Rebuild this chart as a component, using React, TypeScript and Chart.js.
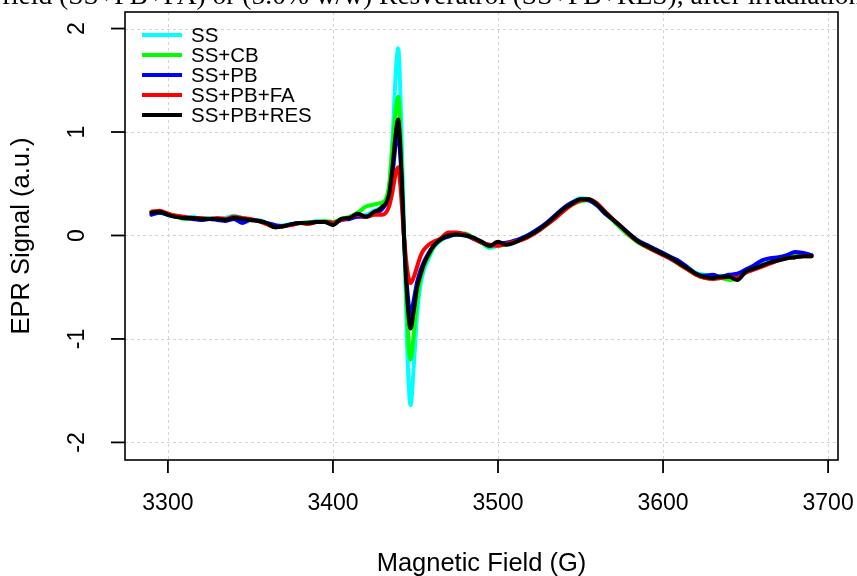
import { useEffect, useRef } from "react";
import { Chart, registerables } from "chart.js";

Chart.register(...registerables);

// Magnetic field (G)
const field = [
  3290, 3295, 3300, 3305, 3310, 3315, 3320, 3325, 3330, 3335, 3340, 3345, 3350, 3355,
  3360, 3365, 3370, 3375, 3380, 3385, 3390, 3395, 3400, 3405, 3410, 3415, 3420, 3425,
  3428, 3430, 3432, 3434, 3436, 3438, 3439.5, 3441, 3443, 3445, 3447, 3449, 3451, 3453,
  3455, 3458, 3461, 3465,
  3470, 3475, 3480, 3485, 3490, 3495, 3500, 3505, 3510, 3515, 3520, 3525, 3530, 3535,
  3540, 3545, 3550, 3555, 3560, 3565, 3570, 3575, 3580, 3585, 3590, 3595, 3600, 3605,
  3610, 3615, 3620, 3625, 3630, 3635, 3640, 3645, 3650, 3655, 3660, 3665, 3670, 3675,
  3680, 3685, 3690,
];

const ssValues = [
  0.21, 0.22, 0.2, 0.19, 0.17, 0.18, 0.16, 0.17, 0.16, 0.17, 0.19, 0.17, 0.15, 0.15,
  0.12, 0.09, 0.1, 0.11, 0.12, 0.12, 0.14, 0.13, 0.13, 0.15, 0.17, 0.19, 0.2, 0.24,
  0.26, 0.28, 0.33, 0.45, 0.9, 1.55, 1.81, 1.3, 0.1, -1.1, -1.64, -1.25, -0.75, -0.48,
  -0.34, -0.22, -0.12, -0.05,
  -0.01, 0.01, 0.0, -0.03, -0.07, -0.12, -0.1, -0.08, -0.05, -0.03, 0.02, 0.07, 0.12, 0.19,
  0.26, 0.32, 0.36, 0.35, 0.29, 0.22, 0.14, 0.07, 0.0, -0.05, -0.1, -0.14, -0.17, -0.22,
  -0.26, -0.31, -0.36, -0.38, -0.4, -0.39, -0.39, -0.38, -0.34, -0.31, -0.28, -0.26, -0.23, -0.21,
  -0.19, -0.18, -0.19,
];

const ssCbValues = [
  0.23, 0.22, 0.21, 0.18, 0.16, 0.17, 0.15, 0.16, 0.16, 0.16, 0.17, 0.16, 0.15, 0.14,
  0.11, 0.08, 0.09, 0.11, 0.12, 0.13, 0.13, 0.14, 0.13, 0.16, 0.18, 0.22, 0.28, 0.3,
  0.31, 0.32, 0.35, 0.48, 0.85, 1.2, 1.34, 0.95, 0.05, -0.8, -1.2, -0.95, -0.62, -0.42,
  -0.3, -0.2, -0.11, -0.05,
  0.0, 0.02, 0.02, -0.02, -0.07, -0.11, -0.09, -0.09, -0.06, -0.03, 0.01, 0.05, 0.11, 0.18,
  0.25, 0.3, 0.33, 0.34, 0.3, 0.21, 0.14, 0.06, -0.01, -0.07, -0.11, -0.15, -0.18, -0.23,
  -0.28, -0.33, -0.38, -0.41, -0.42, -0.41, -0.43, -0.42, -0.36, -0.32, -0.29, -0.26, -0.23, -0.21,
  -0.2, -0.18, -0.19,
];

const ssPbValues = [
  0.2, 0.22, 0.2, 0.18, 0.17, 0.16, 0.15, 0.16, 0.15, 0.14, 0.16, 0.12, 0.15, 0.14,
  0.12, 0.1, 0.09, 0.11, 0.12, 0.12, 0.13, 0.13, 0.12, 0.15, 0.16, 0.18, 0.18, 0.21,
  0.23, 0.26, 0.3, 0.36, 0.58, 0.88, 1.0, 0.72, 0.0, -0.52, -0.76, -0.62, -0.45, -0.34,
  -0.26, -0.17, -0.1, -0.04,
  -0.01, 0.01, 0.01, -0.03, -0.06, -0.1, -0.08, -0.07, -0.05, -0.02, 0.02, 0.07, 0.13, 0.2,
  0.27, 0.32, 0.35, 0.34, 0.29, 0.21, 0.15, 0.08, 0.01, -0.05, -0.09, -0.13, -0.17, -0.21,
  -0.25, -0.31, -0.37, -0.39, -0.38, -0.4, -0.38, -0.37, -0.33, -0.29, -0.24, -0.22, -0.21, -0.19,
  -0.16, -0.17, -0.19,
];

const ssPbFaValues = [
  0.23, 0.24, 0.21, 0.19, 0.18, 0.17, 0.17, 0.16, 0.17, 0.16, 0.18, 0.17, 0.16, 0.14,
  0.11, 0.08, 0.09, 0.1, 0.12, 0.11, 0.13, 0.13, 0.12, 0.15, 0.17, 0.2, 0.18, 0.2,
  0.2, 0.2, 0.22, 0.28, 0.42, 0.6, 0.66, 0.45, 0.0, -0.33, -0.46, -0.4, -0.3, -0.2,
  -0.14, -0.09, -0.06, -0.03,
  0.03, 0.03, 0.01, -0.03, -0.07, -0.09, -0.1, -0.08, -0.06, -0.04, 0.0, 0.05, 0.11, 0.17,
  0.24, 0.3, 0.34, 0.35, 0.31, 0.23, 0.15, 0.08, 0.0, -0.06, -0.11, -0.15, -0.19, -0.23,
  -0.28, -0.33, -0.38, -0.41, -0.42, -0.41, -0.4, -0.41, -0.36, -0.33, -0.3, -0.27, -0.24, -0.22,
  -0.21, -0.2, -0.2,
];

const ssPbResValues = [
  0.22, 0.23, 0.2, 0.18, 0.17, 0.17, 0.16, 0.16, 0.16, 0.15, 0.17, 0.16, 0.15, 0.14,
  0.12, 0.08, 0.09, 0.11, 0.12, 0.12, 0.13, 0.13, 0.1, 0.16, 0.17, 0.21, 0.18, 0.23,
  0.25, 0.28, 0.31, 0.4, 0.65, 0.98, 1.12, 0.8, 0.0, -0.6, -0.9, -0.72, -0.5, -0.38,
  -0.28, -0.18, -0.1, -0.04,
  0.0, 0.01, 0.0, -0.02, -0.06, -0.1, -0.06, -0.09, -0.07, -0.03, 0.01, 0.06, 0.12, 0.19,
  0.26, 0.31, 0.35, 0.35, 0.3, 0.22, 0.15, 0.08, 0.01, -0.06, -0.1, -0.14, -0.18, -0.22,
  -0.27, -0.32, -0.37, -0.4, -0.41, -0.4, -0.4, -0.43, -0.35, -0.32, -0.29, -0.26, -0.24, -0.22,
  -0.21, -0.2, -0.2,
];

const seriesNames = ["SS", "SS+CB", "SS+PB", "SS+PB+FA", "SS+PB+RES"];
const seriesValues = [ssValues, ssCbValues, ssPbValues, ssPbFaValues, ssPbResValues];

const xTicks = [3300, 3400, 3500, 3600, 3700];
const yTicks = [-2, -1, 0, 1, 2];

const xTitle = "Magnetic Field (G)";
const yTitle = "EPR Signal (a.u.)";
const topText = "field (SS+PB+FA) or (5.0% w/w) Resveratrol (SS+PB+RES), after irradiation";

const COLORS = ["#00FFFF", "#00FF00", "#0000FF", "#FF0000", "#000000"];
const SANS = '"Liberation Sans", Arial, sans-serif';
const SERIF = '"Liberation Serif", "Times New Roman", serif';

const rPlot = {
  id: "rPlot",
  beforeDatasetsDraw(chart: any) {
    const { ctx, chartArea: a, scales } = chart;
    const x = scales.x;
    const y = scales.y;
    ctx.save();
    ctx.strokeStyle = "#D3D3D3";
    ctx.lineWidth = 1;
    ctx.setLineDash([3, 3]);
    xTicks.forEach((v) => {
      const px = Math.round(x.getPixelForValue(v)) + 0.5;
      ctx.beginPath();
      ctx.moveTo(px, a.top);
      ctx.lineTo(px, a.bottom);
      ctx.stroke();
    });
    yTicks.forEach((v) => {
      const py = Math.round(y.getPixelForValue(v)) + 0.5;
      ctx.beginPath();
      ctx.moveTo(a.left, py);
      ctx.lineTo(a.right, py);
      ctx.stroke();
    });
    ctx.restore();
  },
  afterDraw(chart: any) {
    const { ctx, chartArea: a, scales } = chart;
    const x = scales.x;
    const y = scales.y;
    ctx.save();
    // box
    ctx.strokeStyle = "#000";
    ctx.lineWidth = 1.6;
    ctx.setLineDash([]);
    ctx.strokeRect(a.left, a.top, a.right - a.left, a.bottom - a.top);
    // ticks
    ctx.lineWidth = 1.8;
    ctx.fillStyle = "#000";
    ctx.font = `23px ${SANS}`;
    ctx.textAlign = "center";
    ctx.textBaseline = "middle";
    xTicks.forEach((v) => {
      const px = x.getPixelForValue(v);
      ctx.beginPath();
      ctx.moveTo(px, a.bottom);
      ctx.lineTo(px, a.bottom + 13);
      ctx.stroke();
      ctx.fillText(String(v), px, a.bottom + 44);
    });
    yTicks.forEach((v) => {
      const py = y.getPixelForValue(v);
      ctx.beginPath();
      ctx.moveTo(a.left - 14, py);
      ctx.lineTo(a.left, py);
      ctx.stroke();
      ctx.save();
      ctx.translate(a.left - 47, py);
      ctx.rotate(-Math.PI / 2);
      ctx.fillText(String(v), 0, 0);
      ctx.restore();
    });
    // axis titles
    ctx.font = `25.5px ${SANS}`;
    ctx.fillText(xTitle, (a.left + a.right) / 2, a.bottom + 104);
    ctx.save();
    ctx.translate(22, (a.top + a.bottom) / 2);
    ctx.rotate(-Math.PI / 2);
    ctx.fillText(yTitle, 0, 0);
    ctx.restore();
    // legend
    ctx.font = `20.5px ${SANS}`;
    ctx.textAlign = "left";
    ctx.lineWidth = 4;
    ctx.lineCap = "butt";
    seriesNames.forEach((name, i) => {
      const ly = a.top + 23 + i * 20;
      ctx.strokeStyle = COLORS[i];
      ctx.beginPath();
      ctx.moveTo(a.left + 17, ly);
      ctx.lineTo(a.left + 57, ly);
      ctx.stroke();
      ctx.fillStyle = "#000";
      ctx.fillText(name, a.left + 66, ly + 1);
    });
    // clipped title at top
    ctx.font = `27.5px ${SERIF}`;
    ctx.textAlign = "center";
    ctx.textBaseline = "alphabetic";
    ctx.fillText(topText, 432, 4);
    ctx.restore();
  },
};

export default function App() {
  const canvasRef = useRef<HTMLCanvasElement | null>(null);

  useEffect(() => {
    const canvas = canvasRef.current;
    if (!canvas) return;
    const chart = new Chart(canvas, {
      type: "line",
      data: {
        datasets: seriesNames.map((name, i) => ({
          label: name,
          data: field.map((f, j) => ({ x: f, y: seriesValues[i][j] })),
          borderColor: COLORS[i],
          backgroundColor: COLORS[i],
          borderWidth: 4,
          pointRadius: 0,
          fill: false,
          cubicInterpolationMode: "monotone" as const,
          borderCapStyle: "round" as const,
          borderJoinStyle: "round" as const,
          order: seriesNames.length - 1 - i,
        })),
      },
      options: {
        responsive: false,
        devicePixelRatio: 1,
        animation: false,
        layout: { padding: { left: 125, right: 19, top: 12, bottom: 116 } },
        plugins: { legend: { display: false }, tooltip: { enabled: false }, title: { display: false } },
        scales: {
          x: { type: "linear", min: 3274, max: 3706, display: false },
          y: { type: "linear", min: -2.17, max: 2.16, display: false },
        },
      },
      plugins: [rPlot],
    });
    return () => chart.destroy();
  }, []);

  return (
    <div style={{ position: "fixed", left: 0, top: 0, width: 857, height: 576, background: "#fff" }}>
      <canvas ref={canvasRef} width={857} height={576} style={{ display: "block" }} />
    </div>
  );
}
